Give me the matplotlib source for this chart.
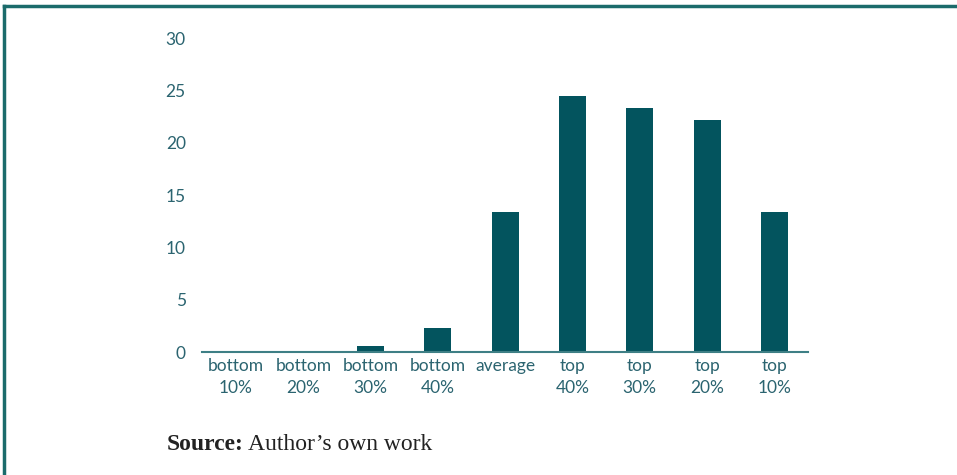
import matplotlib
matplotlib.use("Agg")
import matplotlib.pyplot as plt
from matplotlib.lines import Line2D

categories = ["bottom\n10%", "bottom\n20%", "bottom\n30%", "bottom\n40%", "average",
              "top\n40%", "top\n30%", "top\n20%", "top\n10%"]
values = [0.0, 0.0, 0.6, 2.3, 13.4, 24.5, 23.3, 22.2, 13.4]
yticks = [0, 5, 10, 15, 20, 25, 30]

bar_color = "#03545E"
text_color = "#2B6470"
frame_color = "#1B6B6B"

fig = plt.figure(figsize=(9.57, 4.75), dpi=100)
fig.patch.set_facecolor("white")

ax = fig.add_axes([202.4/957, (475-352.3)/475, (808-202.4)/957, (352.3-38)/475])
x = list(range(len(categories)))
ax.bar(x, values, width=0.4, color=bar_color, zorder=2)
ax.set_xlim(-0.5, len(categories) - 0.5)
ax.set_ylim(0, 30)
ax.set_yticks(yticks)
ax.set_xticks(x)
ax.set_xticklabels(categories, fontsize=12.5, color=text_color, family="Lato", linespacing=1.45)
ax.set_yticklabels([str(t) for t in yticks], fontsize=12.5, color=text_color, family="Lato")
for s in ["top", "right", "left"]:
    ax.spines[s].set_visible(False)
ax.spines["bottom"].set_color("#3E7F85")
ax.spines["bottom"].set_linewidth(1.5)
ax.tick_params(axis="both", length=0)
ax.tick_params(axis="y", pad=12)
ax.tick_params(axis="x", pad=4)

# Frame lines (left and top)
fig.add_artist(Line2D([4/957, 4/957], [0, 1 - 6/475], transform=fig.transFigure,
                      color=frame_color, linewidth=2.5))
fig.add_artist(Line2D([4/957, 1], [1 - 6/475, 1 - 6/475], transform=fig.transFigure,
                      color=frame_color, linewidth=2.5))

t1 = fig.text(167/957, 1 - 445/475, "Source:", fontsize=17, va="center", ha="left",
              family="Liberation Serif", weight="bold", color="#222222")
fig.canvas.draw()
bb = t1.get_window_extent()
fig.text(bb.x1/957 + 4/957, 1 - 445/475, "Author\u2019s own work", fontsize=17, va="center",
         ha="left", family="Liberation Serif", color="#222222")

fig.savefig("out.png", dpi=100, facecolor="white")
